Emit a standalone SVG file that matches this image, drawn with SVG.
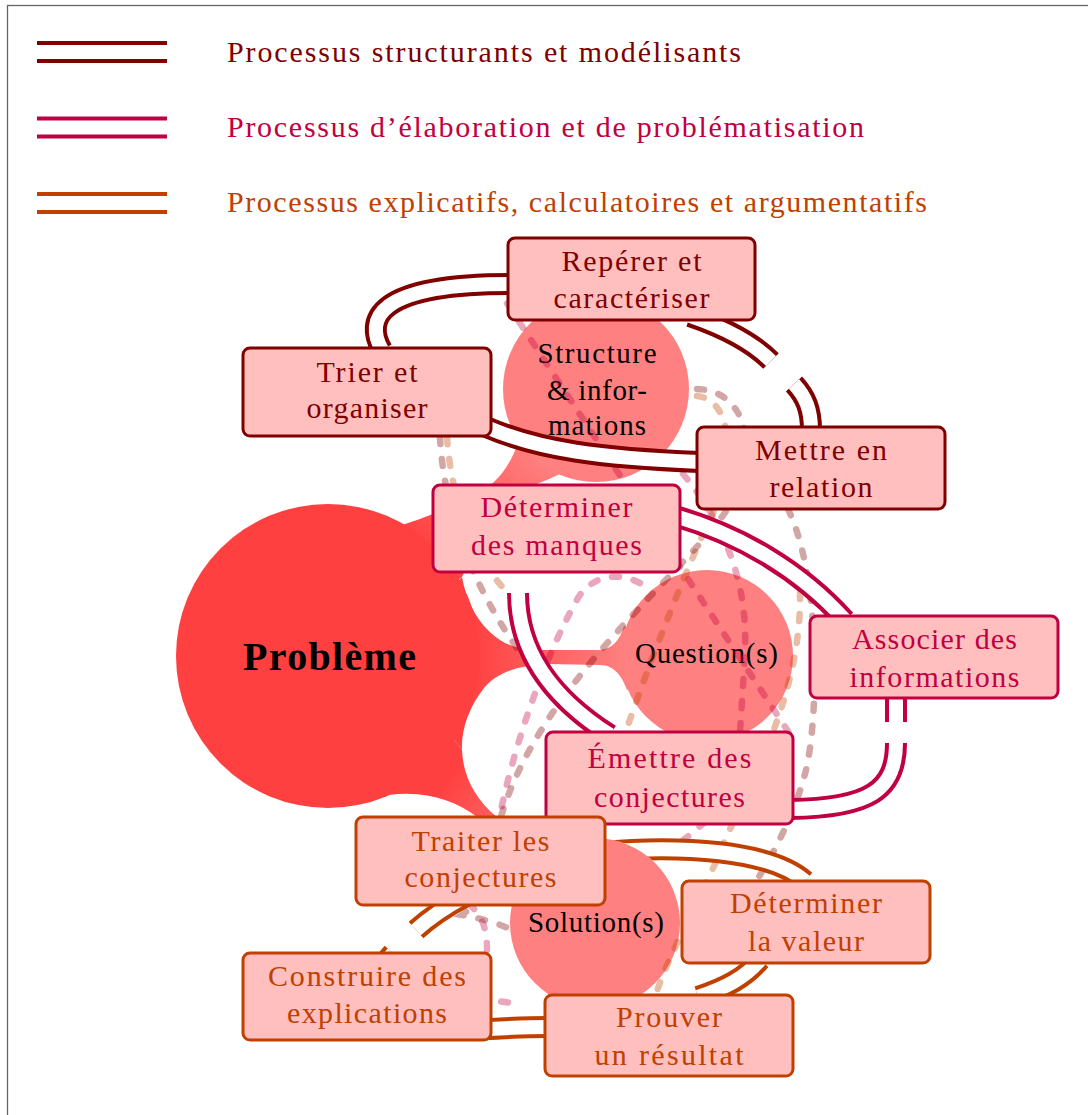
<svg xmlns="http://www.w3.org/2000/svg" width="1088" height="1115" viewBox="0 0 1088 1115">
<defs>
<linearGradient id="gQ" gradientUnits="userSpaceOnUse" x1="470" y1="0" x2="625" y2="0"><stop offset="0" stop-color="#FF4040"/><stop offset="1" stop-color="#FF8080"/></linearGradient>
<linearGradient id="gS" gradientUnits="userSpaceOnUse" x1="430" y1="560" x2="540" y2="455"><stop offset="0" stop-color="#FF4040"/><stop offset="1" stop-color="#FF8080"/></linearGradient>
<linearGradient id="gSol" gradientUnits="userSpaceOnUse" x1="440" y1="790" x2="540" y2="865"><stop offset="0" stop-color="#FF4040"/><stop offset="1" stop-color="#FF8080"/></linearGradient>
<mask id="mSol" maskUnits="userSpaceOnUse" x="0" y="0" width="1088" height="1115"><rect width="1088" height="1115" fill="#fff"/><circle cx="595" cy="923" r="85" fill="#000"/></mask>
<style>
text{font-family:"Liberation Serif","Times New Roman",serif}
.bx{stroke-width:3;fill:#FFBFBF}
.s1{stroke:#800000}.s2{stroke:#C00040}.s3{stroke:#C04000}
.t{font-size:30px;text-anchor:middle}
.c1{fill:#800000}.c2{fill:#C00040}.c3{fill:#C04000}
.ct{font-size:29px;fill:#000;text-anchor:middle}
.lg{font-size:30px}
.o1,.o2,.o3,.w{fill:none}
.o1{stroke:#800000;stroke-width:22}
.o2{stroke:#C00040;stroke-width:22}
.o3{stroke:#C04000;stroke-width:22}
.w{stroke:#fff;stroke-width:14}
.d{fill:none;stroke-width:6.5;stroke-linecap:round;stroke-dasharray:7 15;stroke-opacity:0.35}
.dr{stroke:#800000}.dp{stroke:#C00040}.do{stroke:#C04000}
.big{fill:#FF4040}.small{fill:#FF8080}
</style>
</defs>
<rect x="7.5" y="5.5" width="1200" height="1200" fill="none" stroke="#666" stroke-width="1.3"/>
<g id="legend">
<path class="o1" d="M37,52H167"/><path class="w" d="M37,52H167"/>
<path class="o2" d="M37,127.5H167"/><path class="w" d="M37,127.5H167"/>
<path class="o3" d="M37,203H167"/><path class="w" d="M37,203H167"/>
<text class="lg c1" x="227" y="62" textLength="514" lengthAdjust="spacing">Processus structurants et modélisants</text>
<text class="lg c2" x="227" y="136.5" textLength="637" lengthAdjust="spacing">Processus d’élaboration et de problématisation</text>
<text class="lg c3" x="227" y="211.5" textLength="700" lengthAdjust="spacing">Processus explicatifs, calculatoires et argumentatifs</text>
</g>
<g id="concept-bars">
<path fill="url(#gS)" d="M392,528 C420,520 460,505 493,483 C505,472 513,458 519,440 L560,474 C552,478 544,481 537,484 C505,510 475,545 462,577 L430,600 Z"/>
<path fill="url(#gQ)" d="M440,600 L462,577 C466,600 478,628 505,643 C518,649 530,650 545,650 L600,650 C612,649 620,640 624,626 L650,640 L650,672 L627,690 C622,676 614,665 600,665 L548,664 C520,665 497,672 484,688 C469,707 461,730 462,750 L440,720 Z"/>
<path fill="url(#gSol)" d="M388,795 C425,790 455,800 477,817 L524,878 L553,849 L497,817 C476,800 463,777 462,750 L440,720 Z"/>
</g>
<g id="n-probleme"><circle class="big" cx="328" cy="656" r="152"/><text x="329.5" y="670" font-size="40" font-weight="bold" text-anchor="middle" fill="#000" textLength="173" lengthAdjust="spacing">Problème</text></g>
<g id="n-structure"><circle class="small" cx="596" cy="389" r="93"/>
<text class="ct" x="597" y="363" textLength="119" lengthAdjust="spacing">Structure</text>
<text class="ct" x="597" y="400" textLength="100" lengthAdjust="spacing">&amp; infor-</text>
<text class="ct" x="597" y="435" textLength="98" lengthAdjust="spacing">mations</text></g>
<g id="n-question"><circle class="small" cx="707" cy="656" r="86"/><text class="ct" x="706.5" y="663" textLength="143" lengthAdjust="spacing">Question(s)</text></g>
<g id="n-solution"><circle class="small" cx="595" cy="923" r="85"/><text class="ct" x="596" y="932" textLength="136" lengthAdjust="spacing">Solution(s)</text></g>
<g id="connectors">
<g id="dashed">
<path class="d dp" d="M495,285 L795,742"/>
<path class="d dr" d="M440,437 C445,540 500,650 592,732"/>
<path class="d do" d="M447,437 C452,510 478,560 505,590 C515,600 522,615 525,630"/>
<path class="d dp" d="M683,474 C722,520 748,580 745,650 C743,690 741,712 740,734"/>
<path class="d do" d="M697,396 C735,400 735,470 712,515 C690,560 650,660 625,734"/>
<path class="d dr" d="M697,389 C752,391 758,460 730,505 C690,570 540,680 500,820 C490,860 478,905 462,915 C478,918 494,922 508,928"/>
<path class="d dp" d="M640,583 C615,570 590,578 578,598 C548,650 515,740 500,815 C494,850 480,890 470,905 C485,918 487,935 487,950 L487,985 C487,1000 500,1004 520,1002"/>
<path class="d dr" d="M788,509 C822,580 818,720 806,770 C796,810 776,850 755,883"/>
<path class="d do" d="M800,592 C802,700 745,790 722,848 C700,900 668,955 655,997"/>
<path class="d dp" d="M705,822 C690,835 675,847 660,858"/>
</g>
<g id="double">
<g mask="url(#mSol)"><path class="o3" d="M600,852 C680,845 770,850 805,881"/><path class="w" d="M600,852 C680,845 770,850 805,881"/></g>
<path class="o1" d="M382,350 C365,320 375,284 510,284"/><path class="w" d="M382,350 C365,320 375,284 510,284"/>
<path class="o1" d="M486,427 C540,450 600,458 700,462"/><path class="w" d="M486,427 C540,450 600,458 700,462"/>
<path class="o1" d="M690,316 C728,329 755,345 771,361"/><path class="w" d="M690,316 C728,329 755,345 771,361"/>
<path class="o1" d="M794,384 C806,397 811,410 811,430"/><path class="w" d="M794,384 C806,397 811,410 811,430"/>
<path class="o2" d="M675,516 C740,535 800,570 845,620"/><path class="w" d="M675,516 C740,535 800,570 845,620"/>
<path class="o2" d="M518,593 C518,655 555,700 610,735"/><path class="w" d="M518,593 C518,655 555,700 610,735"/>
<path class="o2" d="M896,695 L896,722"/><path class="w" d="M896,695 L896,722"/>
<path class="o2" d="M896,743 C896,790 870,808 790,809"/><path class="w" d="M896,743 C896,790 870,808 790,809"/>
<path class="o3" d="M466,896 Q436,912 416,930"/><path class="w" d="M466,896 Q436,912 416,930"/>
<path class="o3" d="M393,953 L381,967"/><path class="w" d="M393,953 L381,967"/>
<path class="o3" d="M760,960 C745,978 725,988 698,997"/><path class="w" d="M760,960 C745,978 725,988 698,997"/>
<path class="o3" d="M488,1029 C510,1028 525,1027 548,1027"/><path class="w" d="M488,1029 C510,1028 525,1027 548,1027"/>
</g>
</g>
<g id="n-reperer"><rect class="bx s1" x="508" y="238" width="247" height="82" rx="7"/>
<text class="t c1" x="631.5" y="271" textLength="140" lengthAdjust="spacing">Repérer et</text>
<text class="t c1" x="631.5" y="308" textLength="156" lengthAdjust="spacing">caractériser</text></g>
<g id="n-trier"><rect class="bx s1" x="243" y="348" width="248" height="88" rx="7"/>
<text class="t c1" x="367" y="381.5" textLength="101" lengthAdjust="spacing">Trier et</text>
<text class="t c1" x="367" y="418" textLength="121" lengthAdjust="spacing">organiser</text></g>
<g id="n-mettre"><rect class="bx s1" x="697" y="427" width="248" height="82" rx="7"/>
<text class="t c1" x="821" y="460" textLength="132" lengthAdjust="spacing">Mettre en</text>
<text class="t c1" x="821" y="497" textLength="103" lengthAdjust="spacing">relation</text></g>
<g id="n-manques"><rect class="bx s2" x="433" y="485" width="247" height="87" rx="7"/>
<text class="t c2" x="556.5" y="517" textLength="152" lengthAdjust="spacing">Déterminer</text>
<text class="t c2" x="556.5" y="555" textLength="171" lengthAdjust="spacing">des manques</text></g>
<g id="n-associer"><rect class="bx s2" x="810" y="616" width="248" height="82" rx="7"/>
<text class="t c2" x="934.5" y="649" textLength="165" lengthAdjust="spacing">Associer des</text>
<text class="t c2" x="934.5" y="687" textLength="170" lengthAdjust="spacing">informations</text></g>
<g id="n-emettre"><rect class="bx s2" x="546" y="732" width="247" height="92" rx="7"/>
<text class="t c2" x="669.5" y="768" textLength="164" lengthAdjust="spacing">Émettre des</text>
<text class="t c2" x="669.5" y="806.5" textLength="151" lengthAdjust="spacing">conjectures</text></g>
<g id="n-traiter"><rect class="bx s3" x="356" y="817" width="249" height="88" rx="7"/>
<text class="t c3" x="480.5" y="850.5" textLength="138" lengthAdjust="spacing">Traiter les</text>
<text class="t c3" x="480.5" y="887" textLength="152" lengthAdjust="spacing">conjectures</text></g>
<g id="n-valeur"><rect class="bx s3" x="682" y="881" width="248" height="82" rx="7"/>
<text class="t c3" x="806" y="913" textLength="152" lengthAdjust="spacing">Déterminer</text>
<text class="t c3" x="806" y="951" textLength="116" lengthAdjust="spacing">la valeur</text></g>
<g id="n-construire"><rect class="bx s3" x="243" y="953" width="248" height="87" rx="7"/>
<text class="t c3" x="367" y="986" textLength="198" lengthAdjust="spacing">Construire des</text>
<text class="t c3" x="367" y="1023" textLength="160" lengthAdjust="spacing">explications</text></g>
<g id="n-prouver"><rect class="bx s3" x="545" y="995" width="248" height="81" rx="7"/>
<text class="t c3" x="669" y="1027" textLength="106" lengthAdjust="spacing">Prouver</text>
<text class="t c3" x="669" y="1065" textLength="149" lengthAdjust="spacing">un résultat</text></g>
</svg>
